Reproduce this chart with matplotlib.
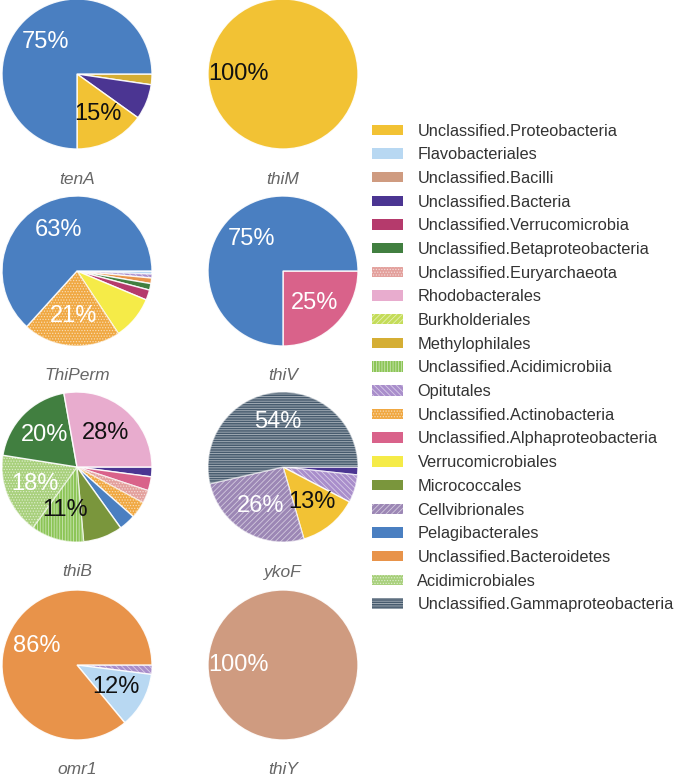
import matplotlib
matplotlib.use("Agg")
import matplotlib.pyplot as plt
from matplotlib.patches import Patch

plt.rcParams['font.family'] = ['Liberation Sans', 'DejaVu Sans']
plt.rcParams['hatch.linewidth'] = 0.6

# ---------------- data ----------------
categories = [
    "Unclassified.Proteobacteria", "Flavobacteriales", "Unclassified.Bacilli",
    "Unclassified.Bacteria", "Unclassified.Verrucomicrobia",
    "Unclassified.Betaproteobacteria", "Unclassified.Euryarchaeota",
    "Rhodobacterales", "Burkholderiales", "Methylophilales",
    "Unclassified.Acidimicrobiia", "Opitutales", "Unclassified.Actinobacteria",
    "Unclassified.Alphaproteobacteria", "Verrucomicrobiales", "Micrococcales",
    "Cellvibrionales", "Pelagibacterales", "Unclassified.Bacteroidetes",
    "Acidimicrobiales", "Unclassified.Gammaproteobacteria",
]

colors = {
    "Unclassified.Proteobacteria": "#F2C234",
    "Flavobacteriales": "#B8D8F2",
    "Unclassified.Bacilli": "#CF9B80",
    "Unclassified.Bacteria": "#4B3592",
    "Unclassified.Verrucomicrobia": "#B53A6C",
    "Unclassified.Betaproteobacteria": "#417F40",
    "Unclassified.Euryarchaeota": "#E3A09C",
    "Rhodobacterales": "#E8ACCE",
    "Burkholderiales": "#C4DC58",
    "Methylophilales": "#D5AE34",
    "Unclassified.Acidimicrobiia": "#8CC556",
    "Opitutales": "#A98ECB",
    "Unclassified.Actinobacteria": "#F0A842",
    "Unclassified.Alphaproteobacteria": "#D9628A",
    "Verrucomicrobiales": "#F5EB48",
    "Micrococcales": "#7A963C",
    "Cellvibrionales": "#9C87B5",
    "Pelagibacterales": "#4A7FC1",
    "Unclassified.Bacteroidetes": "#E8934A",
    "Acidimicrobiales": "#A8D07C",
    "Unclassified.Gammaproteobacteria": "#475B6E",
}

hatches = {
    "Unclassified.Euryarchaeota": "......",
    "Burkholderiales": "//////",
    "Unclassified.Acidimicrobiia": "||||||",
    "Opitutales": "\\\\\\\\\\\\",
    "Unclassified.Actinobacteria": "......",
    "Cellvibrionales": "//////",
    "Acidimicrobiales": "......",
    "Unclassified.Gammaproteobacteria": "-------",
}

dark_label = {"Unclassified.Proteobacteria", "Flavobacteriales",
              "Rhodobacterales", "Unclassified.Acidimicrobiia"}

genes = ["tenA", "thiM", "ThiPerm", "thiV", "thiB", "ykoF", "omr1", "thiY"]

tenA_cats = ["Methylophilales", "Unclassified.Bacteria",
             "Unclassified.Proteobacteria", "Pelagibacterales"]
tenA_vals = [2.3, 7.6, 15.1, 75.0]

thiM_cats = ["Unclassified.Proteobacteria"]
thiM_vals = [100.0]

ThiPerm_cats = ["Flavobacteriales", "Opitutales", "Unclassified.Bacteroidetes",
                "Unclassified.Betaproteobacteria", "Unclassified.Verrucomicrobia",
                "Verrucomicrobiales", "Unclassified.Actinobacteria",
                "Pelagibacterales"]
ThiPerm_vals = [0.7, 0.8, 1.2, 1.4, 2.2, 9.4, 21.0, 63.3]

thiV_cats = ["Unclassified.Alphaproteobacteria", "Pelagibacterales"]
thiV_vals = [25.0, 75.0]

thiB_cats = ["Unclassified.Bacteria", "Unclassified.Alphaproteobacteria",
             "Unclassified.Euryarchaeota", "Unclassified.Actinobacteria",
             "Pelagibacterales", "Micrococcales", "Unclassified.Acidimicrobiia",
             "Acidimicrobiales", "Unclassified.Betaproteobacteria",
             "Rhodobacterales"]
thiB_vals = [2.1, 3.0, 2.8, 3.6, 3.6, 8.5, 11.4, 17.5, 19.7, 27.8]

ykoF_cats = ["Unclassified.Bacteria", "Opitutales", "Unclassified.Proteobacteria",
             "Cellvibrionales", "Unclassified.Gammaproteobacteria"]
ykoF_vals = [1.7, 6.0, 12.8, 25.9, 53.6]

omr1_cats = ["Opitutales", "Flavobacteriales", "Unclassified.Bacteroidetes"]
omr1_vals = [2.0, 12.0, 86.0]

thiY_cats = ["Unclassified.Bacilli"]
thiY_vals = [100.0]

pie_data = {
    "tenA": (tenA_cats, tenA_vals),
    "thiM": (thiM_cats, thiM_vals),
    "ThiPerm": (ThiPerm_cats, ThiPerm_vals),
    "thiV": (thiV_cats, thiV_vals),
    "thiB": (thiB_cats, thiB_vals),
    "ykoF": (ykoF_cats, ykoF_vals),
    "omr1": (omr1_cats, omr1_vals),
    "thiY": (thiY_cats, thiY_vals),
}

# ---------------- layout ----------------
W, H = 677, 778
fig = plt.figure(figsize=(W / 100, H / 100), dpi=100)

col_x = [77, 283]
row_y = [74, 271, 467, 665]
R = 75
edge = (1, 1, 1, 0.9)
hatch_edge = (1, 1, 1, 0.55)

for i, g in enumerate(genes):
    cx = col_x[i % 2]
    cy = row_y[i // 2]
    ax = fig.add_axes([(cx - R) / W, (H - cy - R) / H, 2 * R / W, 2 * R / H])
    cats, vals = pie_data[g]
    wedges, _texts, autotexts = ax.pie(
        vals, colors=[colors[c] for c in cats], startangle=0, counterclock=False,
        autopct=lambda p: f"{p:.0f}%" if p >= 10 else "", pctdistance=0.6,
        wedgeprops=dict(edgecolor=edge, linewidth=1.0),
        textprops=dict(fontsize=17))
    for w, c in zip(wedges, cats):
        if c in hatches:
            w.set_hatch(hatches[c])
            w.set_edgecolor(hatch_edge)
        w.set_clip_on(False)
    for t, c in zip(autotexts, cats):
        t.set_color("#111111" if c in dark_label else "white")
    ax.set_xlim(-1, 1)
    ax.set_ylim(-1, 1)
    ax.set_aspect("equal")
    ax.axis("off")
    ax.text(0, -1.40, g, ha="center", va="center", fontsize=12.5,
            style="italic", color="#666666", clip_on=False)

handles = [Patch(facecolor=colors[c], edgecolor=hatch_edge, linewidth=0.0,
                 hatch=hatches.get(c, None), label=c) for c in categories]
fig.legend(handles=handles, loc="upper left",
           bbox_to_anchor=(365 / W, 1 - 117 / H), frameon=False,
           fontsize=11.8, handlelength=1.9, handleheight=0.6,
           handletextpad=0.9, labelspacing=0.53, borderaxespad=0)
for t in fig.legends[0].get_texts():
    t.set_color("#333333")

fig.savefig("out.png", dpi=100)
